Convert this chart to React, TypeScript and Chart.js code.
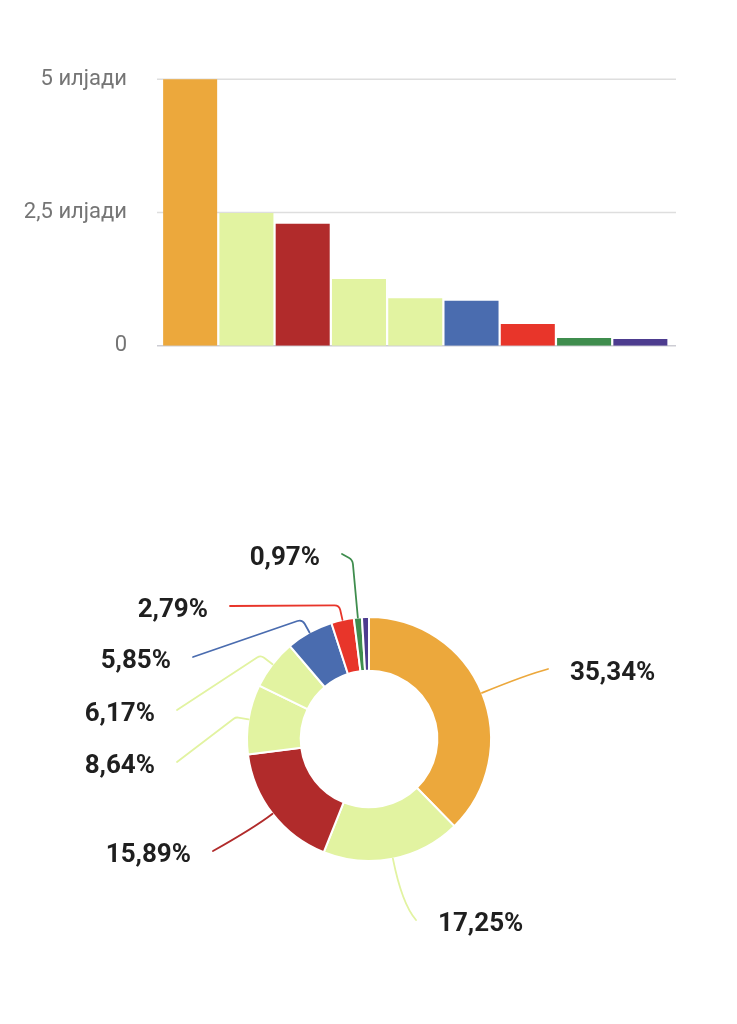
import React, { useEffect, useRef } from "react";
import { Chart, registerables } from "chart.js";

Chart.register(...registerables);

// ---- data ----
const CATEGORIES = ["Ставка 1", "Ставка 2", "Ставка 3", "Ставка 4", "Ставка 5", "Ставка 6", "Ставка 7", "Ставка 8", "Ставка 9"];
const VALUES = [5100, 2490, 2290, 1250, 890, 845, 405, 145, 125];
const COLORS = ["#eca83c", "#e2f3a1", "#b12b2b", "#e2f3a1", "#e2f3a1", "#4a6caf", "#e8352a", "#3f8d4e", "#4d3c8f"];
const PERCENT_LABELS = ["35,34%", "17,25%", "15,89%", "8,64%", "6,17%", "5,85%", "2,79%", "0,97%", ""];
const Y_TICKS = [0, 2500, 5000];
const Y_TICK_LABELS = ["0", "2,5 илјади", "5 илјади"];

// ---- layout of leader-line label ends, relative to doughnut centre ----
type Lay = { dx: number; dy: number; elbow: number; round: number; curve: boolean } | null;
const LABEL_LAYOUT: Lay[] = [
  { dx: 179, dy: -70, elbow: 48, round: 0, curve: true },
  { dx: 47, dy: 181, elbow: 46, round: 0, curve: true },
  { dx: -156, dy: 112, elbow: 22, round: 0, curve: true },
  { dx: -192, dy: 23, elbow: 13, round: 6, curve: false },
  { dx: -192, dy: -29, elbow: 15, round: 6, curve: false },
  { dx: -176, dy: -82, elbow: 15, round: 6, curve: false },
  { dx: -139, dy: -133, elbow: 15, round: 6, curve: false },
  { dx: -27, dy: -185, elbow: 58, round: 8, curve: false },
  null,
];

const FONT = "Roboto, 'Noto Sans', sans-serif";

const gridPlugin = {
  id: "customGrid",
  beforeDatasetsDraw(chart: any) {
    const { ctx, chartArea, scales } = chart;
    const y = scales.y;
    ctx.save();
    y.ticks.forEach((t: any) => {
      const py = y.getPixelForValue(t.value);
      ctx.strokeStyle = t.value === 0 ? "#cdcdd4" : "#dedede";
      ctx.lineWidth = 1.6;
      ctx.beginPath();
      ctx.moveTo(chartArea.left - 5, py);
      ctx.lineTo(chartArea.right + 7.5, py);
      ctx.stroke();
    });
    ctx.restore();
  },
};

const leaderPlugin = {
  id: "leaderLabels",
  afterDatasetsDraw(chart: any) {
    const { ctx } = chart;
    const meta = chart.getDatasetMeta(0);
    ctx.save();
    meta.data.forEach((el: any, i: number) => {
      const lay = LABEL_LAYOUT[i];
      if (!lay || !PERCENT_LABELS[i]) return;
      const p = el.getProps(["x", "y", "startAngle", "endAngle", "outerRadius"], true);
      const a = (p.startAngle + p.endAngle) / 2;
      const cx = Math.cos(a);
      const cy = Math.sin(a);
      const ax = p.x + p.outerRadius * cx;
      const ay = p.y + p.outerRadius * cy;
      const bx = ax + lay.elbow * cx;
      const by = ay + lay.elbow * cy;
      const ex = p.x + lay.dx;
      const ey = p.y + lay.dy;
      ctx.strokeStyle = COLORS[i];
      ctx.lineWidth = 1.8;
      ctx.lineJoin = "round";
      ctx.lineCap = "round";
      ctx.beginPath();
      ctx.moveTo(ax, ay);
      if (lay.curve) {
        ctx.quadraticCurveTo(bx, by, ex, ey);
      } else {
        ctx.arcTo(bx, by, ex, ey, lay.round);
        ctx.lineTo(ex, ey);
      }
      ctx.stroke();

      ctx.fillStyle = "#1f1f1f";
      ctx.font = `bold 26px ${FONT}`;
      ctx.textBaseline = "middle";
      if (lay.dx > 0) {
        ctx.textAlign = "left";
        ctx.fillText(PERCENT_LABELS[i], ex + 22, ey + 4);
      } else {
        ctx.textAlign = "right";
        ctx.fillText(PERCENT_LABELS[i], ex - 22, ey + 4);
      }
    });
    ctx.restore();
  },
};

export default function App() {
  const barRef = useRef<HTMLCanvasElement>(null);
  const pieRef = useRef<HTMLCanvasElement>(null);

  useEffect(() => {
    Chart.defaults.font.family = FONT;
    const bar = new Chart(barRef.current!, {
      type: "bar",
      data: {
        labels: CATEGORIES,
        datasets: [
          {
            data: VALUES,
            backgroundColor: COLORS,
            borderWidth: 0,
            barPercentage: 0.96,
            categoryPercentage: 1,
          },
        ],
      },
      options: {
        animation: false,
        responsive: false,
        events: [],
        layout: { padding: { left: 0, right: 68.5, top: 79.3, bottom: 34.3 } },
        plugins: { legend: { display: false }, tooltip: { enabled: false } },
        scales: {
          x: { display: false },
          y: {
            min: 0,
            max: 5000,
            afterBuildTicks: (scale: any) => {
              scale.ticks = Y_TICKS.map((v) => ({ value: v }));
            },
            afterFit: (scale: any) => {
              scale.width = 162;
              scale.paddingTop = 0;
              scale.paddingBottom = 0;
            },
            grid: { display: false, drawTicks: false },
            border: { display: false },
            ticks: {
              padding: 35,
              color: "#757575",
              font: { size: 22, family: FONT },
              callback: (v: any) => Y_TICK_LABELS[Y_TICKS.indexOf(Number(v))],
            },
          },
        },
      },
      plugins: [gridPlugin],
    });

    const pie = new Chart(pieRef.current!, {
      type: "doughnut",
      data: {
        labels: CATEGORIES,
        datasets: [
          {
            data: VALUES,
            backgroundColor: COLORS,
            borderColor: "#ffffff",
            borderWidth: 2,
          },
        ],
      },
      options: {
        animation: false,
        responsive: false,
        events: [],
        cutout: "56%",
        layout: { padding: { left: 246, right: 245, top: 216, bottom: 162 } },
        plugins: { legend: { display: false }, tooltip: { enabled: false } },
      },
      plugins: [leaderPlugin],
    });

    return () => {
      bar.destroy();
      pie.destroy();
    };
  }, []);

  return (
    <div style={{ position: "absolute", left: 0, top: 0, width: 737, height: 1024, background: "#fff" }}>
      <canvas ref={barRef} width={737} height={380} style={{ position: "absolute", left: 0, top: 0, width: 737, height: 380 }} />
      <canvas ref={pieRef} width={737} height={624} style={{ position: "absolute", left: 0, top: 400, width: 737, height: 624 }} />
    </div>
  );
}
